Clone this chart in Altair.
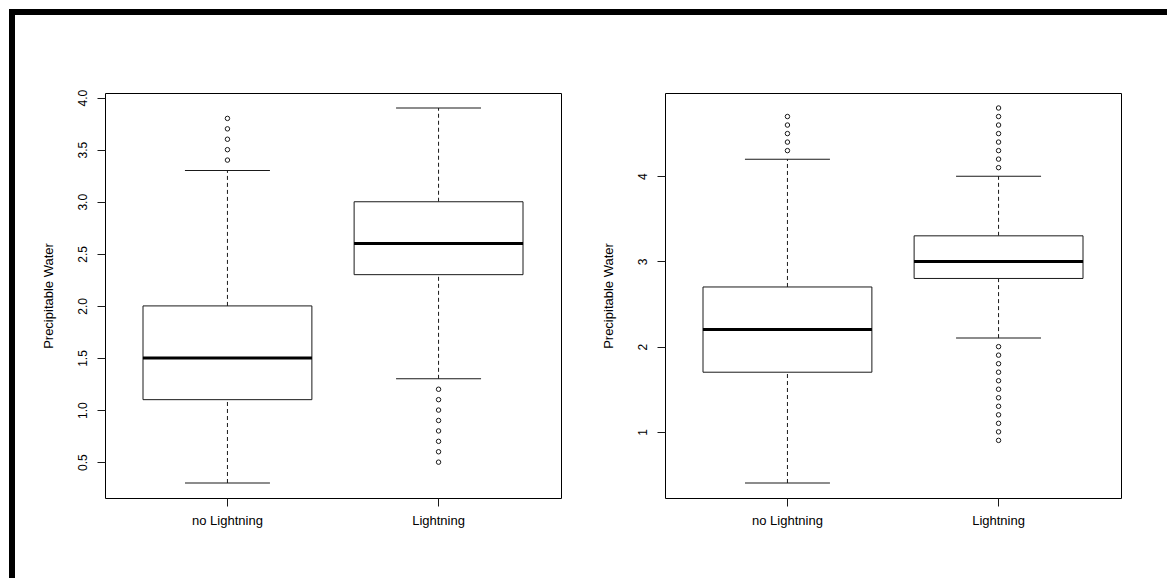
import altair as alt
import pandas as pd

categories = ["no Lightning", "Lightning"]

# Left panel statistics
left_lower = [0.3, 1.3]
left_q1 = [1.1, 2.3]
left_median = [1.5, 2.6]
left_q3 = [2.0, 3.0]
left_upper = [3.3, 3.9]
left_out_no = [3.4, 3.5, 3.6, 3.7, 3.8]
left_out_yes = [1.2, 1.1, 1.0, 0.9, 0.8, 0.7, 0.6, 0.5]
left_ticks = [0.5, 1.0, 1.5, 2.0, 2.5, 3.0, 3.5, 4.0]

# Right panel statistics
right_lower = [0.4, 2.1]
right_q1 = [1.7, 2.8]
right_median = [2.2, 3.0]
right_q3 = [2.7, 3.3]
right_upper = [4.2, 4.0]
right_out_no = [4.3, 4.4, 4.5, 4.6, 4.7]
right_out_yes = [4.1, 4.2, 4.3, 4.4, 4.5, 4.6, 4.7, 4.8,
                 2.0, 1.9, 1.8, 1.7, 1.6, 1.5, 1.4, 1.3, 1.2, 1.1, 1.0, 0.9]
right_ticks = [1, 2, 3, 4]

y_title = "Precipitable Water"
FONT = "Liberation Sans"
INK = "#1a1a1a"

PW, PH = 456, 405


def panel(lower, q1, med, q3, upper, out_no, out_yes, ticks, fmt, border=False):
    stats = pd.DataFrame({"category": categories, "lower": lower, "q1": q1,
                          "median": med, "q3": q3, "upper": upper})
    outl = pd.DataFrame({
        "category": [categories[0]] * len(out_no) + [categories[1]] * len(out_yes),
        "value": out_no + out_yes,
    })
    allv = lower + upper + out_no + out_yes
    lo, hi = min(allv), max(allv)
    rng = hi - lo
    domain = [lo - 0.04 * rng, hi + 0.04 * rng]

    xenc = alt.X("category:N", sort=categories,
                 scale=alt.Scale(domain=categories, paddingInner=0.2, paddingOuter=0.18),
                 axis=alt.Axis(title=None, labelAngle=0, domain=False, grid=False,
                               tickSize=8, tickColor=INK, labelPadding=8,
                               labelFont=FONT, labelFontSize=13, labelColor="black"))
    yscale = alt.Scale(domain=domain, nice=False, zero=False)
    yaxis = alt.Axis(title=y_title, values=ticks, format=fmt, domain=False, grid=False,
                     tickSize=8, tickColor=INK, labelAngle=-90, labelAlign="center",
                     labelBaseline="alphabetic", labelPadding=11,
                     labelFont=FONT, labelFontSize=12, labelColor="black",
                     titleFont=FONT, titleFontSize=13, titleFontWeight="normal",
                     titleColor="black", titleAngle=-90, titleX=-57, titleY=PH / 2,
                     titleAlign="center", titleBaseline="middle")

    base = alt.Chart(stats)
    w_low = base.mark_rule(color=INK, strokeWidth=1, strokeDash=[4, 3]).encode(
        x=xenc, y=alt.Y("lower:Q", scale=yscale, axis=yaxis), y2="q1:Q")
    w_up = base.mark_rule(color=INK, strokeWidth=1, strokeDash=[4, 3]).encode(
        x=xenc, y=alt.Y("q3:Q", scale=yscale, axis=yaxis), y2="upper:Q")
    box = base.mark_bar(fill="white", stroke=INK, strokeWidth=1, opacity=1).encode(
        x=xenc, y=alt.Y("q1:Q", scale=yscale, axis=yaxis), y2="q3:Q")
    median = base.mark_tick(color="black", size=169, thickness=3, opacity=1).encode(
        x=xenc, y=alt.Y("median:Q", scale=yscale, axis=yaxis))
    st_low = base.mark_tick(color=INK, size=85, thickness=1, opacity=1).encode(
        x=xenc, y=alt.Y("lower:Q", scale=yscale, axis=yaxis))
    st_up = base.mark_tick(color=INK, size=85, thickness=1, opacity=1).encode(
        x=xenc, y=alt.Y("upper:Q", scale=yscale, axis=yaxis))
    pts = alt.Chart(outl).mark_point(shape="circle", filled=False, color=INK,
                                     size=20, strokeWidth=1, opacity=1).encode(
        x=xenc, y=alt.Y("value:Q", scale=yscale, axis=yaxis))

    layers = [w_low, w_up, box, median, st_low, st_up, pts]
    if border:
        one = alt.Chart(pd.DataFrame({"k": [0]}))
        vbar = one.mark_rect(color="black", opacity=1).encode(
            x=alt.value(-96), x2=alt.value(-90), y=alt.value(-84), y2=alt.value(485))
        hbar = one.mark_rect(color="black", opacity=1).encode(
            x=alt.value(-96), x2=alt.value(1062), y=alt.value(-84), y2=alt.value(-78))
        layers += [vbar, hbar]
    return alt.layer(*layers).properties(width=PW, height=PH)


left = panel(left_lower, left_q1, left_median, left_q3, left_upper,
             left_out_no, left_out_yes, left_ticks, ".1f", border=True)
right = panel(right_lower, right_q1, right_median, right_q3, right_upper,
              right_out_no, right_out_yes, right_ticks, "d")

chart = alt.hconcat(left, right, spacing=104, bounds="flush").properties(
    padding=0, background="white"
).configure_view(stroke="black", strokeWidth=1)

chart.save("out.html", embed_options={"renderer": "svg", "actions": False})
